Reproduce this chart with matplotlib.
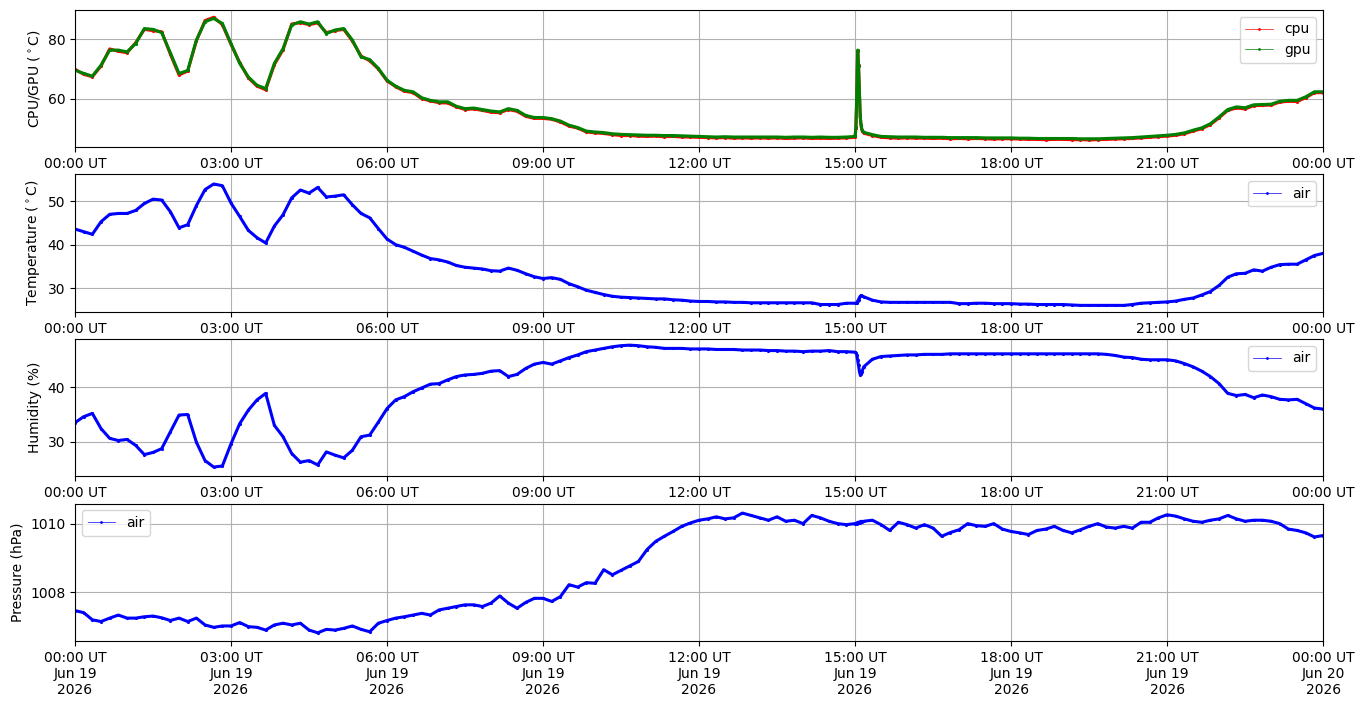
import matplotlib
matplotlib.use("Agg")
import matplotlib.pyplot as plt
import matplotlib.dates as mdates
import pandas as pd

start = pd.Timestamp("2026-06-19 00:00")
end = pd.Timestamp("2026-06-20 00:00")

# readings every 10 minutes, one row per hour
gpu = [
    69.6, 68.5, 67.6, 71.3, 76.4, 76.4,
    75.8, 78.6, 83.7, 83.4, 82.3, 75.5,
    68.5, 69.5, 79.8, 86.0, 87.1, 85.4,
    78.6, 71.9, 67.3, 64.5, 63.4, 71.9,
    76.9, 84.9, 86.0, 85.2, 86.0, 82.0,
    83.2, 83.7, 79.8, 74.1, 73.2, 70.2,
    66.2, 64.2, 62.8, 62.3, 60.3, 59.4,
    58.9, 58.9, 57.4, 56.6, 56.8, 56.3,
    55.8, 55.5, 56.6, 56.0, 54.3, 53.6,
    53.6, 53.2, 52.4, 51.0, 50.2, 49.0,
    48.7, 48.5, 48.1, 47.9, 47.8, 47.7,
    47.6, 47.6, 47.5, 47.5, 47.4, 47.3,
    47.2, 47.1, 47.0, 47.1, 47.0, 47.0,
    47.0, 47.0, 47.0, 47.0, 46.9, 47.0,
    47.0, 46.9, 47.0, 46.9, 46.9, 47.0,
    47.2, 48.6, 47.8, 47.2, 47.1, 47.0,
    47.0, 47.0, 46.9, 46.9, 46.9, 46.8,
    46.8, 46.8, 46.8, 46.7, 46.7, 46.7,
    46.7, 46.6, 46.6, 46.5, 46.5, 46.5,
    46.5, 46.5, 46.4, 46.4, 46.4, 46.5,
    46.6, 46.7, 46.8, 47.0, 47.2, 47.4,
    47.6, 47.9, 48.4, 49.3, 50.1, 51.5,
    53.8, 56.3, 57.2, 56.9, 57.9, 58.0,
    58.1, 59.1, 59.4, 59.4, 60.6, 62.3,
    62.3,
]

cpu = [
    69.9, 68.2, 67.4, 71.0, 76.8, 76.0,
    75.5, 78.9, 83.4, 83.0, 82.6, 75.0,
    68.0, 69.3, 79.5, 86.4, 87.5, 85.0,
    78.3, 72.2, 67.0, 64.2, 63.0, 71.5,
    76.5, 85.2, 85.7, 85.0, 85.6, 82.3,
    83.0, 83.4, 79.5, 74.4, 72.8, 70.0,
    66.0, 64.0, 62.5, 62.0, 60.0, 59.2,
    58.6, 58.5, 57.2, 56.3, 56.5, 56.0,
    55.4, 55.2, 56.3, 55.7, 54.0, 53.3,
    53.3, 53.0, 52.1, 50.7, 50.0, 48.7,
    48.4, 48.2, 47.8, 47.5, 47.5, 47.3,
    47.2, 47.3, 47.1, 47.2, 47.0, 47.0,
    46.9, 46.8, 46.7, 46.8, 46.6, 46.7,
    46.6, 46.7, 46.6, 46.7, 46.5, 46.6,
    46.7, 46.5, 46.6, 46.5, 46.6, 46.7,
    46.9, 48.3, 47.5, 46.9, 46.7, 46.6,
    46.7, 46.6, 46.6, 46.5, 46.6, 46.4,
    46.5, 46.4, 46.5, 46.4, 46.3, 46.4,
    46.4, 46.3, 46.2, 46.2, 46.1, 46.2,
    46.2, 46.1, 46.1, 46.0, 46.1, 46.2,
    46.3, 46.4, 46.5, 46.7, 46.9, 47.1,
    47.3, 47.6, 48.1, 49.0, 49.8, 51.2,
    53.5, 56.0, 56.8, 56.5, 57.6, 57.7,
    57.8, 58.8, 59.1, 59.0, 60.3, 62.0,
    62.0,
]

temperature = [
    43.6, 43.0, 42.4, 45.3, 47.0, 47.2,
    47.2, 47.9, 49.5, 50.5, 50.3, 47.6,
    43.9, 44.6, 49.0, 52.7, 54.0, 53.6,
    49.6, 46.5, 43.3, 41.6, 40.4, 44.3,
    46.9, 50.8, 52.6, 51.9, 53.2, 51.0,
    51.2, 51.5, 49.2, 47.2, 46.2, 43.7,
    41.3, 40.0, 39.4, 38.5, 37.6, 36.8,
    36.5, 36.0, 35.2, 34.8, 34.6, 34.4,
    34.0, 33.9, 34.6, 34.1, 33.3, 32.6,
    32.2, 32.4, 32.0, 31.0, 30.3, 29.5,
    29.0, 28.5, 28.1, 27.9, 27.8, 27.7,
    27.6, 27.5, 27.5, 27.3, 27.2, 27.0,
    26.9, 26.9, 26.8, 26.8, 26.7, 26.7,
    26.6, 26.6, 26.6, 26.6, 26.6, 26.6,
    26.6, 26.6, 26.2, 26.2, 26.2, 26.5,
    26.5, 28.0, 27.2, 26.8, 26.7, 26.7,
    26.7, 26.7, 26.7, 26.7, 26.7, 26.7,
    26.4, 26.4, 26.5, 26.5, 26.4, 26.4,
    26.4, 26.3, 26.3, 26.2, 26.2, 26.2,
    26.2, 26.1, 26.0, 26.0, 26.0, 26.0,
    26.0, 26.0, 26.2, 26.5, 26.6, 26.7,
    26.8, 27.0, 27.4, 27.7, 28.4, 29.2,
    30.6, 32.5, 33.3, 33.4, 34.2, 33.9,
    34.8, 35.4, 35.5, 35.5, 36.5, 37.5,
    38.0,
]

humidity = [
    33.5, 34.6, 35.2, 32.4, 30.6, 30.2,
    30.4, 29.3, 27.6, 28.0, 28.7, 31.8,
    34.9, 35.0, 29.9, 26.5, 25.3, 25.5,
    29.6, 33.3, 35.8, 37.7, 38.9, 33.0,
    30.9, 27.8, 26.2, 26.5, 25.7, 28.1,
    27.5, 27.0, 28.4, 30.9, 31.2, 33.6,
    36.1, 37.7, 38.3, 39.2, 39.9, 40.6,
    40.7, 41.4, 42.0, 42.3, 42.4, 42.6,
    43.0, 43.1, 42.0, 42.4, 43.5, 44.3,
    44.6, 44.3, 44.9, 45.5, 46.0, 46.6,
    46.9, 47.2, 47.5, 47.7, 47.8, 47.7,
    47.5, 47.4, 47.2, 47.2, 47.2, 47.1,
    47.1, 47.1, 47.0, 47.0, 47.0, 46.9,
    46.9, 46.9, 46.8, 46.8, 46.7, 46.7,
    46.6, 46.7, 46.7, 46.8, 46.6, 46.6,
    46.5, 43.8, 45.2, 45.7, 45.8, 45.9,
    46.0, 46.0, 46.1, 46.1, 46.1, 46.2,
    46.2, 46.2, 46.2, 46.2, 46.2, 46.2,
    46.2, 46.2, 46.2, 46.2, 46.2, 46.2,
    46.2, 46.2, 46.2, 46.2, 46.2, 46.1,
    45.9, 45.6, 45.5, 45.2, 45.1, 45.1,
    45.1, 44.9, 44.4, 43.8, 43.0, 42.0,
    40.7, 38.9, 38.5, 38.7, 38.1, 38.6,
    38.3, 37.8, 37.7, 37.8, 37.0, 36.2,
    36.0,
]

pressure = [
    1007.46, 1007.40, 1007.19, 1007.14, 1007.24, 1007.33,
    1007.24, 1007.24, 1007.28, 1007.30, 1007.25, 1007.17,
    1007.24, 1007.14, 1007.24, 1007.04, 1006.97, 1007.01,
    1007.01, 1007.11, 1006.99, 1006.97, 1006.89, 1007.04,
    1007.09, 1007.04, 1007.09, 1006.89, 1006.81, 1006.91,
    1006.89, 1006.94, 1007.01, 1006.91, 1006.84, 1007.09,
    1007.17, 1007.24, 1007.28, 1007.33, 1007.38, 1007.33,
    1007.48, 1007.53, 1007.58, 1007.63, 1007.63, 1007.58,
    1007.68, 1007.89, 1007.68, 1007.53, 1007.70, 1007.82,
    1007.82, 1007.73, 1007.87, 1008.22, 1008.15, 1008.28,
    1008.26, 1008.66, 1008.51, 1008.64, 1008.77, 1008.90,
    1009.25, 1009.49, 1009.64, 1009.78, 1009.93, 1010.03,
    1010.11, 1010.15, 1010.21, 1010.15, 1010.18, 1010.32,
    1010.25, 1010.18, 1010.11, 1010.21, 1010.08, 1010.11,
    1010.01, 1010.25, 1010.18, 1010.08, 1010.01, 1009.98,
    1010.01, 1010.08, 1010.11, 1009.98, 1009.81, 1010.05,
    1009.98, 1009.88, 1009.98, 1009.88, 1009.64, 1009.75,
    1009.83, 1010.01, 1009.95, 1009.93, 1010.01, 1009.85,
    1009.78, 1009.74, 1009.69, 1009.81, 1009.85, 1009.93,
    1009.81, 1009.74, 1009.83, 1009.93, 1010.01, 1009.91,
    1009.88, 1009.93, 1009.88, 1010.05, 1010.05, 1010.18,
    1010.27, 1010.23, 1010.15, 1010.08, 1010.05, 1010.11,
    1010.15, 1010.25, 1010.15, 1010.08, 1010.11, 1010.11,
    1010.08, 1010.01, 1009.85, 1009.81, 1009.74, 1009.62,
    1009.66,
]

# extra minute readings around the 15:00 spike
spike_minutes = [901, 902, 903, 904, 905, 906, 907, 908]
spike_gpu = [50.5, 62.0, 76.4, 71.0, 62.5, 54.0, 51.0, 49.5]
spike_cpu = [50.0, 61.0, 76.0, 71.3, 61.8, 53.5, 50.6, 49.2]
spike_temperature = [26.5, 26.6, 27.0, 27.3, 27.8, 28.1, 28.3, 28.2]
spike_humidity = [46.4, 46.0, 45.0, 44.1, 43.0, 42.3, 42.5, 42.9]
spike_pressure = [1010.02, 1010.00, 1010.05, 1010.03, 1010.06, 1010.02, 1010.08, 1010.05]


def series(values, spike_values):
    s = pd.Series(values, index=pd.date_range(start, periods=len(values), freq="10min"))
    extra = pd.Series(spike_values, index=start + pd.to_timedelta(spike_minutes, unit="min"))
    return pd.concat([s, extra]).sort_index()


def draw(ax, s, color, label):
    ax.plot(s.index, s.values, color=color, marker=".", markersize=2.5,
            linewidth=2.2, label=label)


fig, axes = plt.subplots(4, 1, figsize=(13.64, 7.07), dpi=100)
fig.subplots_adjust(left=0.055, right=0.97, top=0.986, bottom=0.0934, hspace=0.197)

ax1, ax2, ax3, ax4 = axes
draw(ax1, series(cpu, spike_cpu), "red", "cpu")
draw(ax1, series(gpu, spike_gpu), "green", "gpu")
ax1.set_ylabel("CPU/GPU ($^\\circ$C)")
ax1.set_ylim(43.5, 90.0)

draw(ax2, series(temperature, spike_temperature), "blue", "air")
ax2.set_ylabel("Temperature ($^\\circ$C)")
ax2.set_ylim(24.5, 56.2)

draw(ax3, series(humidity, spike_humidity), "blue", "air")
ax3.set_ylabel("Humidity (%)")
ax3.set_ylim(23.57, 48.94)

draw(ax4, series(pressure, spike_pressure), "blue", "air")
ax4.set_ylabel("Pressure (hPa)")
ax4.set_ylim(1006.57, 1010.6)

for ax in axes:
    ax.set_xlim(start, end)
    ax.xaxis.set_major_locator(mdates.HourLocator(byhour=range(0, 24, 3)))
    ax.xaxis.set_major_formatter(mdates.DateFormatter("%H:%M UT"))
    ax.grid(True)
ax4.xaxis.set_major_formatter(mdates.DateFormatter("%H:%M UT\n%b %d\n%Y"))

for ax, loc in [(ax1, "upper right"), (ax2, "upper right"), (ax3, "upper right"), (ax4, "upper left")]:
    leg = ax.legend(loc=loc)
    for line in leg.get_lines():
        line.set_linewidth(0.5)
        line.set_markersize(2)

fig.savefig("out.png", dpi=100)
